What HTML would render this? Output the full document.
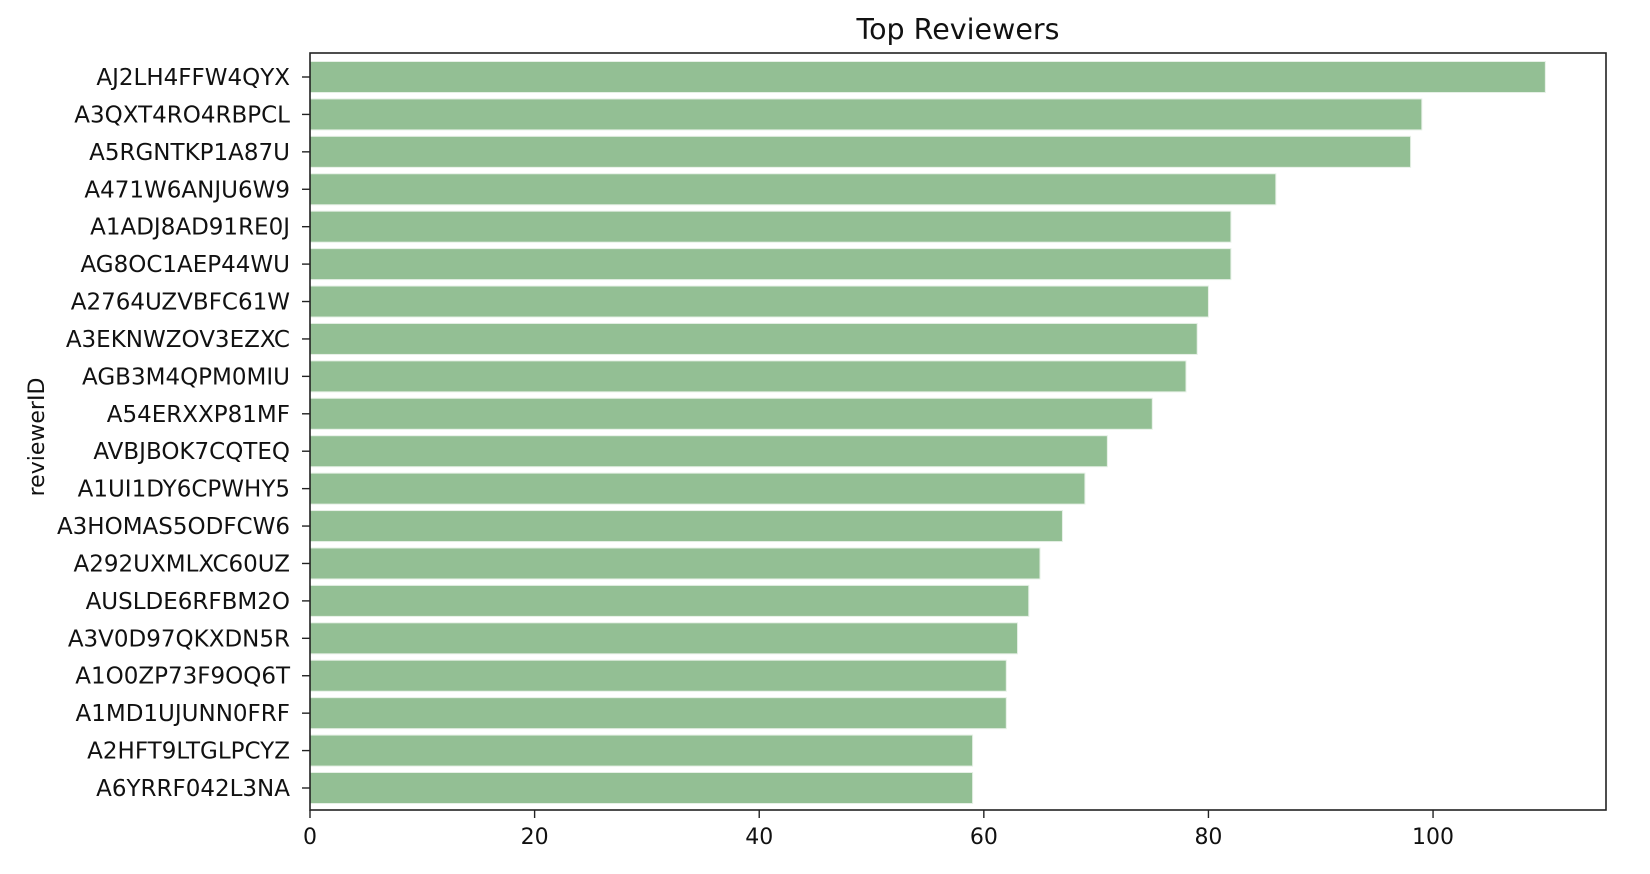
<!DOCTYPE html>
<html><head><meta charset="utf-8"><style>
html,body{margin:0;padding:0;background:#fff;}
svg{display:block;font-family:"DejaVu Sans","Liberation Sans",sans-serif;}
</style></head><body>
<svg id="chart" width="1650" height="874" xmlns="http://www.w3.org/2000/svg">
<text x="958" y="39" text-anchor="middle" font-size="28.5" fill="#111">Top Reviewers</text>
<text transform="translate(44,437) rotate(-90)" text-anchor="middle" font-size="22" fill="#111">reviewerID</text>
<g id="bars"></g><g id="yticks"></g><g id="xticks"></g>
<rect x="310" y="53" width="1296" height="757" fill="none" stroke="#222" stroke-width="1.6"/>
</svg>
<script>
const categories = ["AJ2LH4FFW4QYX","A3QXT4RO4RBPCL","A5RGNTKP1A87U","A471W6ANJU6W9","A1ADJ8AD91RE0J","AG8OC1AEP44WU","A2764UZVBFC61W","A3EKNWZOV3EZXC","AGB3M4QPM0MIU","A54ERXXP81MF","AVBJBOK7CQTEQ","A1UI1DY6CPWHY5","A3HOMAS5ODFCW6","A292UXMLXC60UZ","AUSLDE6RFBM2O","A3V0D97QKXDN5R","A1O0ZP73F9OQ6T","A1MD1UJUNN0FRF","A2HFT9LTGLPCYZ","A6YRRF042L3NA"];
const counts = [110,99,98,86,82,82,80,79,78,75,71,69,67,65,64,63,62,62,59,59];
const xTicks = [0,20,40,60,80,100];
const L=310,R=1606,T=53,B=810,XMAX=115.4;
const ns="http://www.w3.org/2000/svg";
const xs=v=>L+v*(R-L)/XMAX;
const firstC=77,lastC=788;
const step=(lastC-firstC)/(categories.length-1);
const yc=i=>firstC+step*i;
const bars=document.getElementById('bars'),yt=document.getElementById('yticks'),xt=document.getElementById('xticks');
function mk(t,a,p){const e=document.createElementNS(ns,t);for(const k in a)e.setAttribute(k,a[k]);p.appendChild(e);return e;}
categories.forEach((c,i)=>{
  const h=31;
  const r=mk('rect',{x:xs(0),y:yc(i)-h/2,width:xs(counts[i])-xs(0),height:h,fill:'#93bf94',stroke:'#e6f0e6','stroke-width':1},bars);
  
  
  mk('line',{x1:L-8,x2:L,y1:yc(i),y2:yc(i),stroke:'#222','stroke-width':1.4},yt);
  const t=mk('text',{x:L-20,y:yc(i)+8,'text-anchor':'end','font-size':23,fill:'#111'},yt);
  t.textContent=c;
  
  
});
xTicks.forEach(v=>{
  mk('line',{x1:xs(v),x2:xs(v),y1:B,y2:B+8,stroke:'#222','stroke-width':1.4},xt);
  const t=mk('text',{x:xs(v),y:B+34,'text-anchor':'middle','font-size':22,fill:'#111'},xt);
  t.textContent=v;
  
  
});
</script>
</body></html>
